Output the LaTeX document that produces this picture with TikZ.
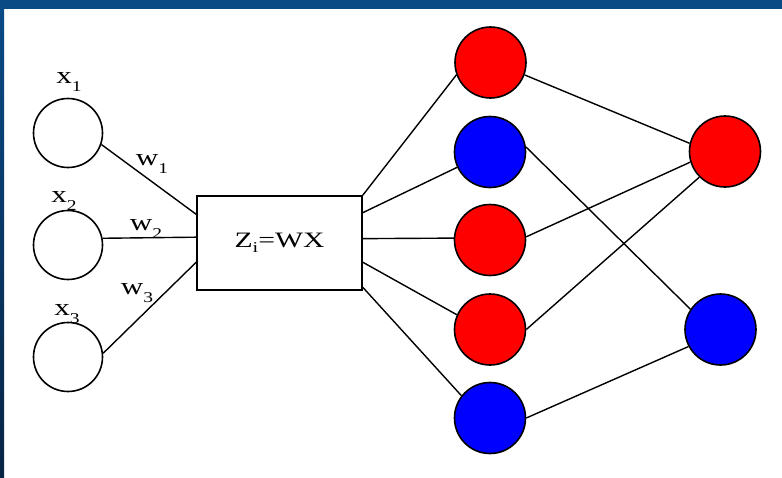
\documentclass[tikz,border=0pt]{standalone}
\usepackage{fontspec}
\setmainfont{Liberation Serif}
\usepackage{graphicx}
\definecolor{bandblue}{RGB}{10,74,133}
\definecolor{banddark}{RGB}{8,36,68}
\definecolor{nred}{RGB}{255,0,0}
\definecolor{nblue}{RGB}{0,0,255}
\newcommand{\mylab}[2]{\scalebox{1.3}[1]{\fontsize{24}{24}\selectfont #1\raisebox{-8pt}{\fontsize{15}{15}\selectfont #2}}}
\begin{document}
\begin{tikzpicture}[x=1pt,y=-1pt,
  incirc/.style={circle,draw,line width=1.6pt,minimum size=69pt,inner sep=0pt,fill=white},
  redn/.style={circle,draw,line width=1.6pt,minimum size=71pt,inner sep=0pt,fill=nred},
  bluen/.style={circle,draw,line width=1.6pt,minimum size=71pt,inner sep=0pt,fill=nblue},
  lab/.style={inner sep=0pt},
  boxn/.style={draw,line width=1.6pt,minimum width=165pt,minimum height=94pt,inner sep=0pt,fill=white},
  conn/.style={line width=1.4pt}]
\useasboundingbox (0,0) rectangle (782,477);
\fill[white] (0,0) rectangle (782,477);
\fill[bandblue] (0,0) rectangle (782,9);
\shade[top color=bandblue,bottom color=banddark] (0,9) rectangle (4,477);

% input nodes
\node[incirc] (c1) at (68,133) {};
\node[incirc] (c2) at (68,245) {};
\node[incirc] (c3) at (68,357) {};
\node[lab] (x1) at (69,82) {\mylab{x}{1}};
\node[lab] (x2) at (64,201) {\mylab{x}{2}};
\node[lab] (x3) at (67,314) {\mylab{x}{3}};

% box
\node[boxn] (box) at (279.5,243) {\scalebox{1.35}[1]{\fontsize{22}{22}\selectfont Z\raisebox{-5pt}{\fontsize{15}{15}\selectfont i}=WX}};

% weights
\node[lab] (w1) at (152,164) {\mylab{w}{1}};
\node[lab] (w2) at (146,229) {\mylab{w}{2}};
\node[lab] (w3) at (137,293) {\mylab{w}{3}};

% middle layer
\node[redn]  (m1) at (490.5,62.5) {};
\node[bluen] (m2) at (490,152) {};
\node[redn]  (m3) at (490,240) {};
\node[redn]  (m4) at (490,329.5) {};
\node[bluen] (m5) at (490,418) {};

% output layer
\node[redn]  (r1) at (725,151.5) {};
\node[bluen] (r2) at (720.5,329.5) {};

% connectors input -> box
\draw[conn] (c1.-19) -- (box.161.3);
\draw[conn] (c2.11) -- (box.176.5);
\draw[conn] (c3.6) -- (box.193.6);

% box -> middle
\draw[conn] (box.north east) -- (m1.200);
\draw[conn] (box.20) -- (m2.205);
\draw[conn] (box.3.5) -- (m3.177);
\draw[conn] (box.-13.6) -- (m4.156);
\draw[conn] (box.-28.6) -- (m5.142);

% middle -> output
\draw[conn] (m1.-20) -- (r1.167);
\draw[conn] (m2.8) -- (r2.146);
\draw[conn] (m3.5) -- (r1.197);
\draw[conn] (m4.0) -- (r1.225);
\draw[conn] (m5.0) -- (r2.208);
\end{tikzpicture}
\end{document}
